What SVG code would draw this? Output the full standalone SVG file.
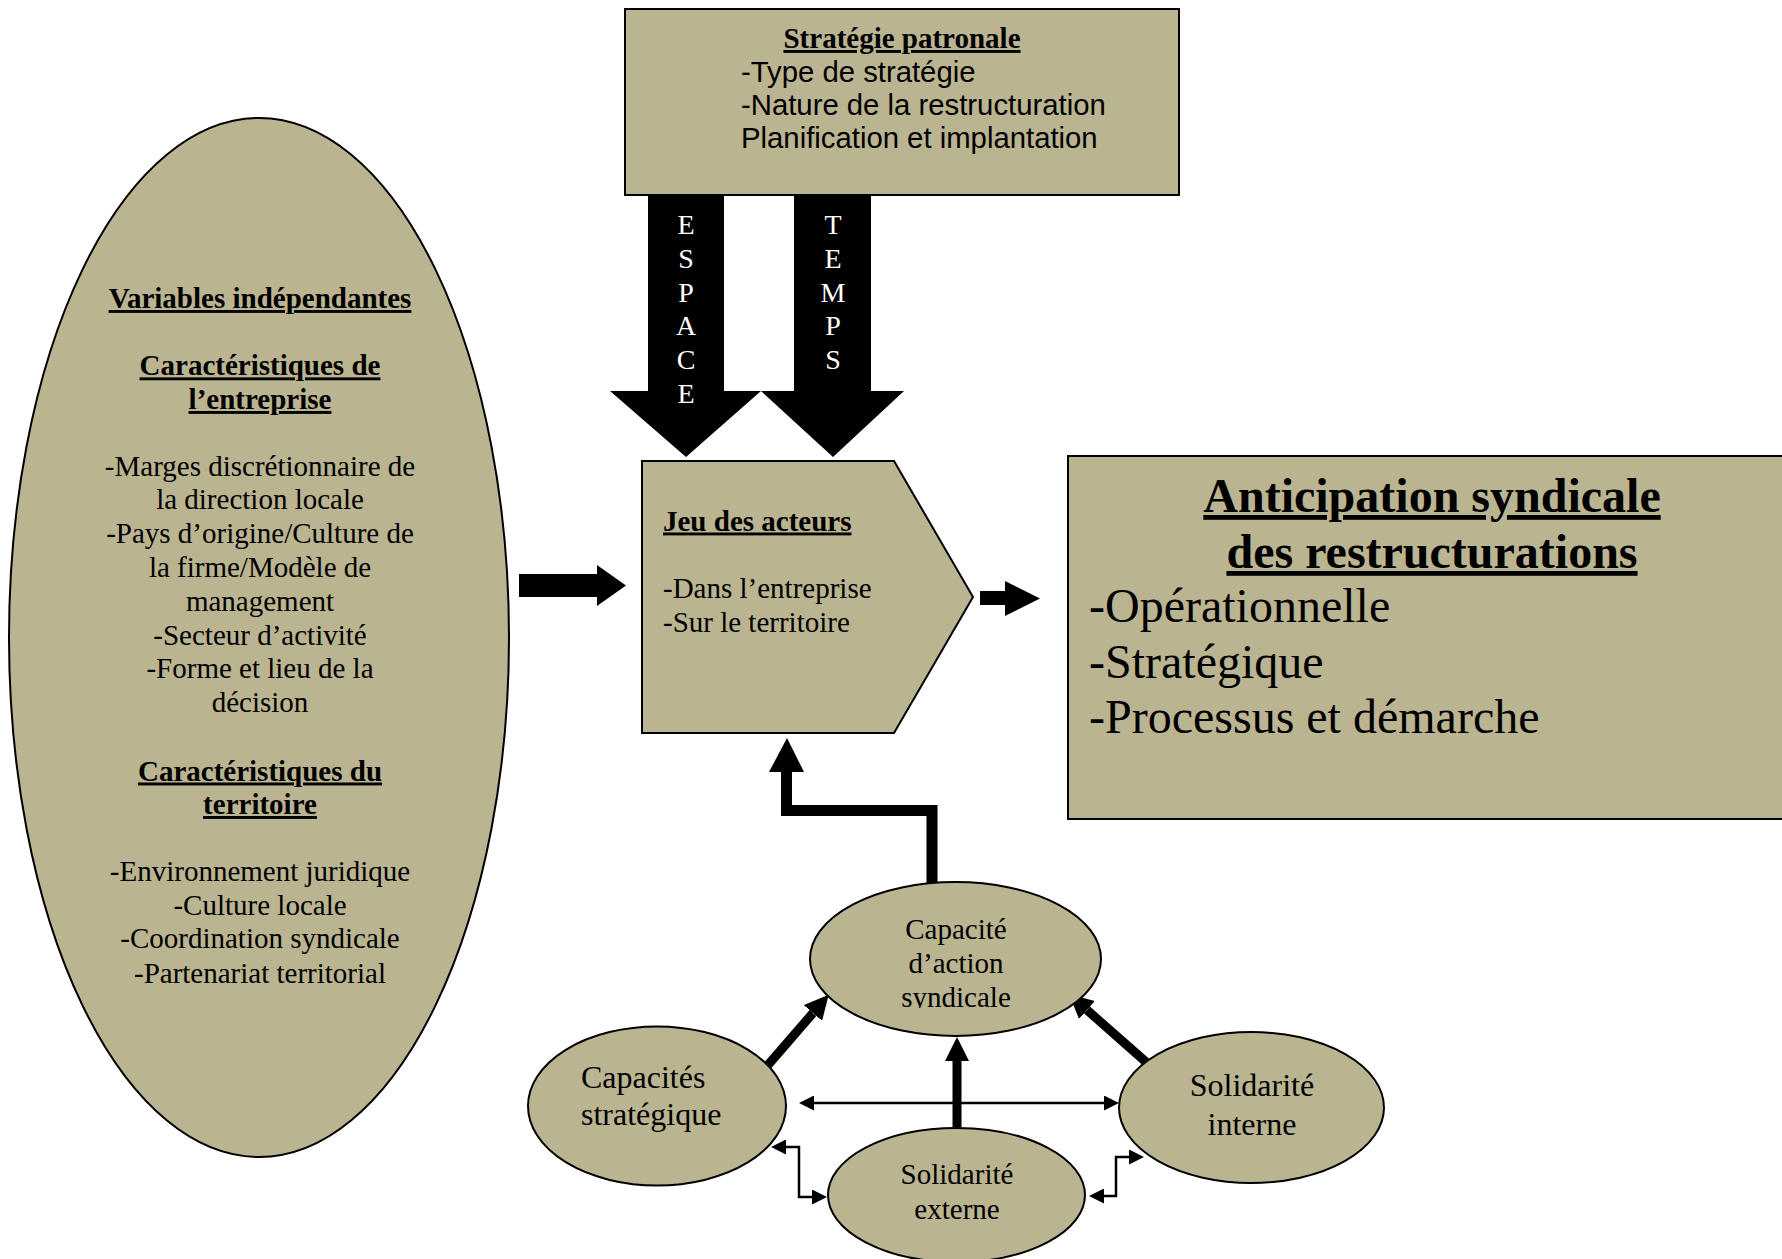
<svg xmlns="http://www.w3.org/2000/svg" width="1782" height="1259" viewBox="0 0 1782 1259">
<style>
.shape{fill:#BAB491;stroke:#000;stroke-width:2}
.tr{font-family:"Liberation Serif","Times New Roman",serif;fill:#000}
.ar{font-family:"Liberation Sans",Arial,sans-serif;fill:#000;font-size:29.3px}
.b{font-weight:bold;text-decoration:underline}
.c{text-anchor:middle}
.s29{font-size:29px}
.s32{font-size:32px}
.s48{font-size:48px}
.wl{font-family:"Liberation Serif","Times New Roman",serif;fill:#fff;font-size:28px;text-anchor:middle}
.blk{fill:#000;stroke:none}
.thin{fill:none;stroke:#000;stroke-width:2.5}
.thick{fill:none;stroke:#000;stroke-width:9}
</style>
<defs>
<marker id="ah" viewBox="0 0 16 16" refX="0" refY="8" markerWidth="16" markerHeight="15" markerUnits="userSpaceOnUse" orient="auto-start-reverse">
<path d="M0,0 L16,8 L0,16 z" fill="#000"/>
</marker>
<marker id="ahT" viewBox="0 0 24 24" refX="0" refY="12" markerWidth="24" markerHeight="24" markerUnits="userSpaceOnUse" orient="auto">
<path d="M0,0 L24,12 L0,24 z" fill="#000"/>
</marker>
<clipPath id="clipSynd"><rect x="800" y="880" width="310" height="128"/></clipPath>
</defs>
<rect width="1782" height="1259" fill="#fff"/>

<g id="connectors">
<polygon class="blk" points="648,195 724,195 724,391 761,391 686,457 610,391 648,391"/>
<polygon class="blk" points="794,195 871,195 871,391 904,391 833,457 761,391 794,391"/>
<polygon class="blk" points="519,574 597,574 597,565 626,585.5 597,606 597,597 519,597"/>
<polygon class="blk" points="980,591 1005,591 1005,581 1040,598.5 1005,616 1005,605 980,605"/>
<polyline points="932,883 932,810.5 786.5,810.5 786.5,771" fill="none" stroke="#000" stroke-width="11"/>
<polygon class="blk" points="769,772 804,772 787,738"/>
<line class="thick" x1="768" y1="1065" x2="813" y2="1013" marker-end="url(#ahT)"/>
<line class="thick" x1="1146" y1="1062" x2="1087" y2="1010" marker-end="url(#ahT)"/>
<line class="thick" x1="957" y1="1127" x2="957" y2="1061" marker-end="url(#ahT)"/>
<line class="thin" x1="814" y1="1103" x2="1104" y2="1103" marker-start="url(#ah)" marker-end="url(#ah)"/>
<polyline class="thin" points="786,1147 799,1147 799,1197 812,1197" marker-start="url(#ah)" marker-end="url(#ah)"/>
<polyline class="thin" points="1104,1196 1116,1196 1116,1157 1129,1157" marker-start="url(#ah)" marker-end="url(#ah)"/>
</g>

<g id="strategie-patronale">
<rect class="shape" x="625" y="9" width="554" height="186"/>
<text class="tr b c s29" x="902" y="48">Stratégie patronale</text>
<text class="ar" x="741" y="81.5">-Type de stratégie</text>
<text class="ar" x="741" y="114.5">-Nature de la restructuration</text>
<text class="ar" x="741" y="148">Planification et implantation</text>
</g>

<g id="espace">
<text class="wl" x="686" y="234">E</text>
<text class="wl" x="686" y="267.8">S</text>
<text class="wl" x="686" y="301.6">P</text>
<text class="wl" x="686" y="335.4">A</text>
<text class="wl" x="686" y="369.2">C</text>
<text class="wl" x="686" y="403">E</text>
</g>
<g id="temps">
<text class="wl" x="833" y="234">T</text>
<text class="wl" x="833" y="267.8">E</text>
<text class="wl" x="833" y="301.6">M</text>
<text class="wl" x="833" y="335.4">P</text>
<text class="wl" x="833" y="369.2">S</text>
</g>

<g id="variables-independantes">
<ellipse class="shape" cx="259" cy="637.5" rx="250" ry="519.5"/>
<g class="tr s29 c">
<text class="b" x="260" y="308">Variables indépendantes</text>
<text class="b" x="260" y="375.4">Caractéristiques de</text>
<text class="b" x="260" y="409">l’entreprise</text>
<text x="260" y="476">-Marges discrétionnaire de</text>
<text x="260" y="509.4">la direction locale</text>
<text x="260" y="543.2">-Pays d’origine/Culture de</text>
<text x="260" y="577">la firme/Modèle de</text>
<text x="260" y="610.6">management</text>
<text x="260" y="644.6">-Secteur d’activité</text>
<text x="260" y="678.2">-Forme et lieu de la</text>
<text x="260" y="712">décision</text>
<text class="b" x="260" y="780.5">Caractéristiques du</text>
<text class="b" x="260" y="814">territoire</text>
<text x="260" y="881">-Environnement juridique</text>
<text x="260" y="914.5">-Culture locale</text>
<text x="260" y="948">-Coordination syndicale</text>
<text x="260" y="982.5">-Partenariat territorial</text>
</g>
</g>

<g id="jeu-des-acteurs">
<polygon class="shape" points="642,461 894,461 973,597 894,733 642,733"/>
<text class="tr b s29" x="663" y="530.5">Jeu des acteurs</text>
<text class="tr s29" x="663" y="598">-Dans l’entreprise</text>
<text class="tr s29" x="663" y="632">-Sur le territoire</text>
</g>

<g id="anticipation-syndicale">
<rect class="shape" x="1068" y="456" width="730" height="363"/>
<text class="tr b c s48" x="1432" y="512">Anticipation syndicale</text>
<text class="tr b c s48" x="1432" y="568">des restructurations</text>
<text class="tr s48" x="1089" y="622">-Opérationnelle</text>
<text class="tr s48" x="1089" y="678">-Stratégique</text>
<text class="tr s48" x="1089" y="733">-Processus et démarche</text>
</g>

<g id="capacite-action-syndicale">
<ellipse class="shape" cx="955.5" cy="959" rx="145.5" ry="77"/>
<text class="tr s29 c" x="956" y="939">Capacité</text>
<text class="tr s29 c" x="956" y="973">d’action</text>
<text class="tr s29 c" x="956" y="1007" clip-path="url(#clipSynd)">syndicale</text>
</g>

<g id="capacites-strategique">
<ellipse class="shape" cx="657" cy="1106" rx="129" ry="79.5"/>
<text class="tr s32" x="581" y="1088">Capacités</text>
<text class="tr s32" x="581" y="1125">stratégique</text>
</g>

<g id="solidarite-interne">
<ellipse class="shape" cx="1251.5" cy="1107.5" rx="132.5" ry="75.5"/>
<text class="tr s32 c" x="1252" y="1096">Solidarité</text>
<text class="tr s32 c" x="1252" y="1135">interne</text>
</g>

<g id="solidarite-externe">
<ellipse class="shape" cx="956.5" cy="1195" rx="128.5" ry="67"/>
<text class="tr s29 c" x="957" y="1184">Solidarité</text>
<text class="tr s29 c" x="957" y="1219">externe</text>
</g>
</svg>
